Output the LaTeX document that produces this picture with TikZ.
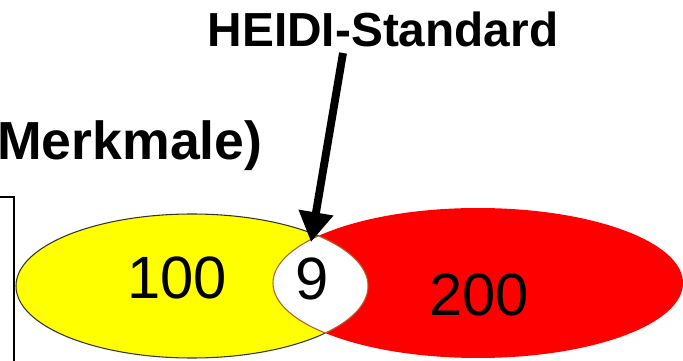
\documentclass[tikz,border=0pt]{standalone}
\usepackage{fontspec}
\setmainfont{Liberation Sans}
\usepackage{xcolor}
\usepackage{tikz}
\usetikzlibrary{arrows.meta,positioning}
\definecolor{LeftSetColor}{HTML}{FFFF00}
\definecolor{RightSetColor}{HTML}{FF0000}
\definecolor{LensBorderColor}{HTML}{B0602A}
\colorlet{FrameColor}{black}

\begin{document}
\begin{tikzpicture}[
      x=0.02cm,
      y=-0.02cm,
      headline/.style = {font=\bfseries\fontsize{27.2}{32}\selectfont, inner sep=0pt},
      bigline/.style = {font=\bfseries\fontsize{30.5}{35}\selectfont, inner sep=0pt},
      count/.style = {font=\fontsize{34}{40}\selectfont, inner sep=0pt},
      pointer/.style = {line width=4.5pt, -{Triangle[length=17pt, width=19pt]}},
      setborder/.style = {draw=black!80, line width=0.6pt},
      lensborder/.style = {draw=LensBorderColor, line width=0.6pt},
  ]
  \useasboundingbox (0,0) rectangle (683,361);
  % ┌────────┐
  % │ Mengen │
  % └────────┘
  \fill[LeftSetColor] (192,286) ellipse [x radius=176, y radius=72];
  \draw[setborder] (192,286) ellipse [x radius=176, y radius=72];
  \fill[RightSetColor] (478,283) ellipse [x radius=205, y radius=75];
  % Schnittmenge weiss
  \begin{scope}
    \clip (192,286) ellipse [x radius=176, y radius=72];
    \fill[white] (478,283) ellipse [x radius=205, y radius=75];
    \draw[lensborder] (478,283) ellipse [x radius=205, y radius=75];
  \end{scope}
  \begin{scope}
    \clip (478,283) ellipse [x radius=205, y radius=75];
    \draw[lensborder] (192,286) ellipse [x radius=176, y radius=72];
  \end{scope}
  % Rahmen (abgeschnitten)
  \draw[FrameColor, line width=1pt] (0,197) -| (14,361);
  % ┌────────┐
  % │ Texte  │
  % └────────┘
  \node[bigline, anchor=base west] (merkmale) at (-3,160) {Merkmale)};
  \node[headline, anchor=base] (heidi) at (383,47) {HEIDI-Standard};
  \node[count] (nleft) at (177,278) {100};
  \node[count] (nboth) at (312,279) {9};
  \node[count] (nright) at (479,295) {200};
  % ┌───────┐
  % │ Pfeil │
  % └───────┘
  \coordinate (arrowtail) at (343,53);
  \coordinate (arrowtip) at (311,242);
  \draw[pointer] (arrowtail) -- (arrowtip);
\end{tikzpicture}
\end{document}
